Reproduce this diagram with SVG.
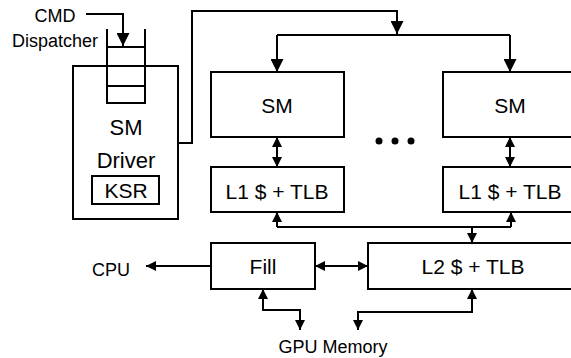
<svg xmlns="http://www.w3.org/2000/svg" width="571" height="358" viewBox="0 0 571 358">
  <style>
    .box { fill: #ffffff; stroke: #000000; stroke-width: 2; }
    .wire { fill: none; stroke: #000000; stroke-width: 2; }
    .lbl { font-family: "Liberation Sans", Arial, sans-serif; fill: #000000; text-anchor: middle; }
    .big { font-size: 21px; }
    .mid { font-size: 18px; }
    .sm { font-size: 18px; }
  </style>
  <defs>
    <marker id="head" markerUnits="userSpaceOnUse" viewBox="0 0 13 13" refX="13" refY="6.5" markerWidth="13" markerHeight="13" orient="auto-start-reverse">
      <path d="M0,0 L13,6.5 L0,13 Z" fill="#000000"/>
    </marker>
    <marker id="tip" markerUnits="userSpaceOnUse" viewBox="0 0 10 10" refX="10" refY="5" markerWidth="10" markerHeight="10" orient="auto-start-reverse">
      <path d="M0,0 L10,5 L0,10 Z" fill="#000000"/>
    </marker>
  </defs>

  <!-- SM driver with its command queue -->
  <g id="sm-driver">
    <rect class="box" x="73" y="66" width="105" height="153"/>
    <text class="lbl" x="126" y="135" style="font-size:22px">SM</text>
    <text class="lbl" x="126" y="168" style="font-size:22px">Driver</text>
    <rect class="box" x="92" y="176" width="67" height="28"/>
    <text class="lbl big" x="126" y="198">KSR</text>
  </g>
  <g id="cmd-queue">
    <path class="wire" d="M107,29 V103 H145 V29 M107,47 H145 M107,66 H145 M107,86 H145"/>
  </g>
  <g id="cmd-dispatcher">
    <text class="lbl sm" x="55" y="22">CMD</text>
    <text class="lbl sm" x="55" y="47">Dispatcher</text>
  </g>

  <!-- streaming multiprocessors -->
  <g id="sm-left">
    <rect class="box" x="211" y="72" width="133" height="65"/>
    <text class="lbl big" x="277" y="113">SM</text>
  </g>
  <g id="sm-right">
    <rect class="box" x="443" y="72" width="134" height="65"/>
    <text class="lbl big" x="510" y="113">SM</text>
  </g>
  <g id="ellipsis">
    <circle cx="379" cy="141" r="3.5" fill="#000000"/>
    <circle cx="395" cy="141" r="3.5" fill="#000000"/>
    <circle cx="411" cy="141" r="3.5" fill="#000000"/>
  </g>

  <!-- private L1 caches -->
  <g id="l1-left">
    <rect class="box" x="211" y="167" width="133" height="45"/>
    <text class="lbl big" x="277" y="199">L1 $ + TLB</text>
  </g>
  <g id="l1-right">
    <rect class="box" x="443" y="167" width="134" height="45"/>
    <text class="lbl big" x="510" y="199">L1 $ + TLB</text>
  </g>

  <!-- shared level -->
  <g id="fill">
    <rect class="box" x="211" y="243" width="104" height="46"/>
    <text class="lbl big" x="263" y="274">Fill</text>
  </g>
  <g id="l2">
    <rect class="box" x="368" y="243" width="210" height="46"/>
    <text class="lbl big" x="473" y="274">L2 $ + TLB</text>
  </g>
  <g id="cpu">
    <text class="lbl mid" x="111" y="276">CPU</text>
  </g>
  <g id="gpu-memory">
    <text class="lbl mid" x="333" y="353">GPU Memory</text>
  </g>

  <g id="connectors">
    <!-- dispatcher into queue -->
    <path class="wire" d="M86,14 H123 V46" marker-end="url(#head)"/>
    <!-- driver to SM broadcast -->
    <path class="wire" d="M178,143 H192 V11 H397 V34" marker-end="url(#head)"/>
    <path class="wire" d="M277,35 H510"/>
    <path class="wire" d="M277,35 V72" marker-end="url(#head)"/>
    <path class="wire" d="M510,35 V72" marker-end="url(#head)"/>
    <!-- SM <-> L1 -->
    <path class="wire" d="M277,137 V167" marker-start="url(#tip)" marker-end="url(#tip)"/>
    <path class="wire" d="M510,137 V167" marker-start="url(#tip)" marker-end="url(#tip)"/>
    <!-- L1 / L2 bus -->
    <path class="wire" d="M277,227 H511"/>
    <path class="wire" d="M277,227 V212" marker-end="url(#tip)"/>
    <path class="wire" d="M511,227 V212" marker-end="url(#tip)"/>
    <path class="wire" d="M472,227 V243" marker-end="url(#tip)"/>
    <!-- Fill <-> L2 -->
    <path class="wire" d="M315,266 H368" marker-start="url(#tip)" marker-end="url(#tip)"/>
    <!-- Fill to CPU -->
    <path class="wire" d="M211,266 H146" marker-end="url(#tip)"/>
    <!-- memory paths -->
    <path class="wire" d="M263,289 V310 H300 V330" marker-start="url(#tip)" marker-end="url(#tip)"/>
    <path class="wire" d="M472,289 V312 H358 V330" marker-start="url(#tip)" marker-end="url(#tip)"/>
  </g>
</svg>
